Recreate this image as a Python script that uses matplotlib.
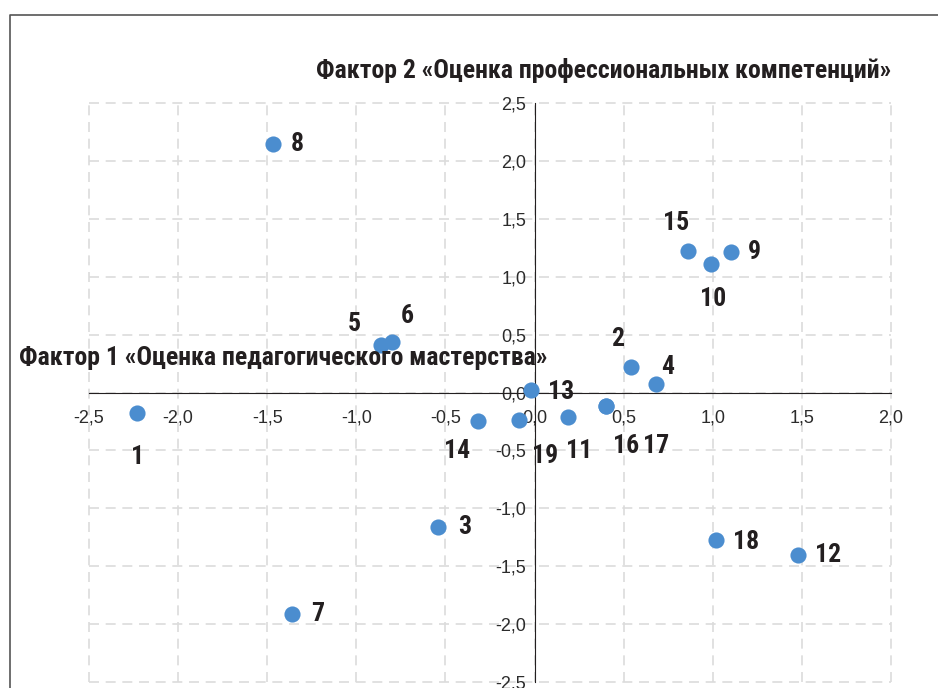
import matplotlib.pyplot as plt
from matplotlib.lines import Line2D

plt.rcParams['font.family'] = ['Roboto Condensed', 'DejaVu Sans']

# номера объектов и координаты по факторам
labels = ['1', '2', '3', '4', '5', '6', '7', '8', '9', '10',
          '11', '12', '13', '14', '15', '16', '17', '18', '19']
f1 = [-2.23, 0.54, -0.54, 0.68, -0.86, -0.80, -1.36, -1.47, 1.10, 0.99,
      0.19, 1.48, -0.02, -0.32, 0.86, 0.40, 0.40, 1.02, -0.09]
f2 = [-0.18, 0.22, -1.16, 0.07, 0.41, 0.44, -1.91, 2.15, 1.21, 1.11,
      -0.21, -1.40, 0.02, -0.25, 1.22, -0.12, -0.12, -1.27, -0.24]

xticks = [-2.5, -2.0, -1.5, -1.0, -0.5, 0.0, 0.5, 1.0, 1.5, 2.0]
yticks = [-2.5, -2.0, -1.5, -1.0, -0.5, 0.0, 0.5, 1.0, 1.5, 2.0, 2.5]

# смещения подписей в пикселях (dx, dy)
offs = {'1': (0, -44), '2': (-13, 28), '3': (26, 0), '4': (12, 17),
        '5': (-27, 21), '6': (15, 26), '7': (26, 0), '8': (25, 0),
        '9': (24, 0), '10': (2, -35), '11': (11, -34), '12': (30, 0),
        '13': (30, -2), '14': (-20, -30), '16': (20, -40), '17': (50, -40),
        '15': (-12, 28), '18': (30, -2), '19': (27, -36)}

fig = plt.figure(figsize=(9.38, 6.88), dpi=100)
ax = fig.add_axes([89 / 938, 6 / 688, 802 / 938, 579 / 688])

ax.scatter(f1, f2, s=135, color='#4b8dcf', zorder=3, linewidths=0)
for lab, x, y in zip(labels, f1, f2):
    dx, dy = offs[lab]
    ax.annotate(lab, (x, y), xytext=(dx * 0.72, dy * 0.72), textcoords='offset points',
                ha='center', va='center', fontsize=18.5, fontweight='bold', color='#231f20')

ax.set_xlim(-2.5, 2.0)
ax.set_ylim(-2.5, 2.5)
ax.tick_params(length=0, colors='#2b2b2b', pad=6, labelsize=13, labelfontfamily='Liberation Sans')
ax.tick_params(axis='x', pad=12)
ax.set_xticks(xticks, [f'{v:.1f}'.replace('.', ',') for v in xticks])
ax.set_yticks(yticks, [f'{v:.1f}'.replace('.', ',') for v in yticks])

for s in ['top', 'right']:
    ax.spines[s].set_visible(False)
ax.spines['left'].set_position(('data', 0))
ax.spines['bottom'].set_position(('data', 0))
ax.spines['left'].set_color('#231f20')
ax.spines['bottom'].set_color('#231f20')
ax.grid(True, color='#dcdcdc', linestyle=(0, (6, 4)), linewidth=1.2)
ax.set_axisbelow(True)
for g in ax.get_xgridlines() + ax.get_ygridlines():
    g.set_clip_on(False)

ax.text(2.0, 2.78, 'Фактор 2 «Оценка профессиональных компетенций»', ha='right', va='center',
        fontsize=18.5, fontweight='bold', color='#231f20')
ax.text(0.07, 0.30, 'Фактор 1 «Оценка педагогического мастерства»', ha='right', va='center',
        fontsize=18.5, fontweight='bold', color='#231f20')

# рамка
fig.add_artist(Line2D([9.5 / 938, 9.5 / 938, 1], [0, 1 - 14.5 / 688, 1 - 14.5 / 688],
                      color='#555555', linewidth=1.2))

fig.savefig('out.png', dpi=100)
